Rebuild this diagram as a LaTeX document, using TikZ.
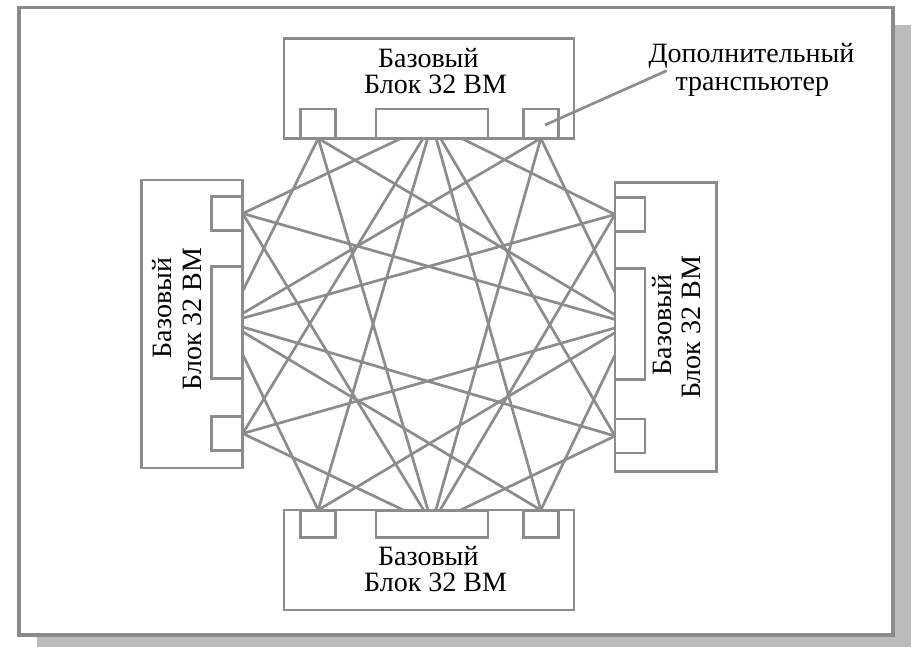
\documentclass[tikz,border=0pt]{standalone}
\usepackage{fontspec}
\setmainfont{Liberation Serif}
\definecolor{ln}{HTML}{8C8C8C}
\definecolor{frm}{HTML}{8A8A8A}
\definecolor{shd}{HTML}{BBBBBB}
\pgfdeclarelayer{back}
\pgfdeclarelayer{mesh}
\pgfsetlayers{back,mesh,main}
\begin{document}
\begin{tikzpicture}[x=1pt,y=-1pt,
 blk/.style={draw=ln,fill=white,line width=2.9pt,inner sep=0pt,outer sep=0pt,rectangle},
 port/.style={blk},
 txt/.style={font=\rmfamily\fontsize{28}{28}\selectfont,inner sep=0pt,outer sep=0pt,anchor=base},
 wire/.style={draw=ln,line width=2.7pt}]
\useasboundingbox (0,0) rectangle (915,647);
\begin{pgfonlayer}{back}
\fill[shd] (36.5,25.5) rectangle (911,660);
\draw[frm,line width=3.3pt,fill=white] (19,7.7) rectangle (893,635);
\end{pgfonlayer}
% top block
\node[blk,minimum width=290pt,minimum height=100pt] (top) at (429,88.3) {};
\node[port,minimum width=35pt,minimum height=29.3pt] (tl) at (318.2,123.7) {};
\node[port,minimum width=112pt,minimum height=29.3pt] (tm) at (432,123.7) {};
\node[port,minimum width=35pt,minimum height=29.3pt] (tr) at (540.8,123.7) {};
% bottom block
\node[blk,minimum width=290pt,minimum height=100pt] (bot) at (429,560) {};
\node[port,minimum width=35pt,minimum height=27.3pt] (bl) at (318.2,523.7) {};
\node[port,minimum width=112pt,minimum height=27.3pt] (bm) at (432,523.7) {};
\node[port,minimum width=35pt,minimum height=27.3pt] (br) at (540.8,523.7) {};
% left block
\node[blk,minimum width=101pt,minimum height=288pt] (lft) at (192.2,324) {};
\node[port,minimum width=31pt,minimum height=34pt] (lt) at (227.2,213.5) {};
\node[port,minimum width=31pt,minimum height=111.6pt] (lm) at (227.2,322.5) {};
\node[port,minimum width=31pt,minimum height=34pt] (lb) at (227.2,433.5) {};
% right block
\node[blk,minimum width=101.7pt,minimum height=288.7pt] (rgt) at (665.8,327.3) {};
\node[port,minimum width=30pt,minimum height=34.5pt] (rt) at (630,214.5) {};
\node[port,minimum width=30pt,minimum height=110.7pt] (rm) at (630,323.7) {};
\node[port,minimum width=30pt,minimum height=34pt] (rb) at (630,436) {};
% mesh
\begin{pgfonlayer}{mesh}
\foreach \a/\b in {tm.center/lt.east, tm.center/lb.east, tm.center/rt.west, tm.center/rb.west, tm.center/bl.north, tm.center/br.north,
  bm.center/lt.east, bm.center/lb.east, bm.center/rt.west, bm.center/rb.west, bm.center/tl.south, bm.center/tr.south,
  lm.center/tl.south, lm.center/tr.south, lm.center/bl.north, lm.center/br.north, lm.center/rt.west, lm.center/rb.west,
  rm.center/tl.south, rm.center/tr.south, rm.center/bl.north, rm.center/br.north, rm.center/lt.east, rm.center/lb.east}
  \draw[wire] (\a) -- (\b);
\end{pgfonlayer}
% texts
\node[txt] (ttx1) at (428.3,67.7) {Базовый};
\node[txt] (ttx2) at (435.5,93.3) {Блок 32 ВМ};
\node[txt] (btx1) at (428.3,565) {Базовый};
\node[txt] (btx2) at (435.5,591.7) {Блок 32 ВМ};
\node[txt,rotate=90] (ltx1) at (171.7,308) {Базовый};
\node[txt,rotate=90] (ltx2) at (201.7,319) {Блок 32 ВМ};
\node[txt,rotate=90] (rtx1) at (671.7,325) {Базовый};
\node[txt,rotate=90] (rtx2) at (700,327.5) {Блок 32 ВМ};
\node[txt] (lab1) at (751.5,62.7) {Дополнительный};
\node[txt] (lab2) at (752.3,90.7) {транспьютер};
\coordinate (ls) at (545,125);
\coordinate (le) at (666.7,70.7);
\draw[wire] (ls) -- (le);
\end{tikzpicture}
\end{document}
